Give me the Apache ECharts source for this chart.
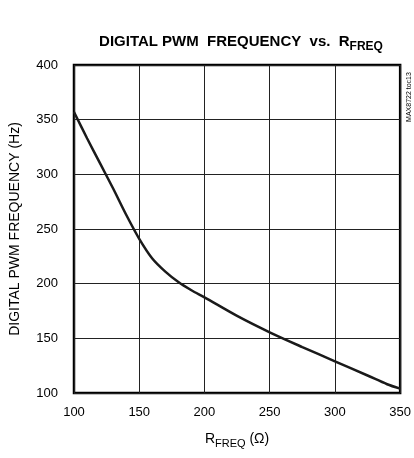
<!DOCTYPE html>
<html>
<head>
<meta charset="utf-8">
<script src="https://cdn.jsdelivr.net/npm/echarts@6/dist/echarts.min.js"></script>
<style>
html,body{margin:0;padding:0;background:#fff;}
#chart{width:414px;height:458px;}
</style>
</head>
<body>
<div id="chart"></div>
<script>
// Data
var rFreq = [100, 110, 120, 130, 140, 150, 160, 170, 180, 190, 200, 225, 250, 275, 300, 325, 340, 350];
var pwmFreq = [357, 333, 310, 287, 263, 241, 223, 211, 201.5, 194, 187.5, 170.5, 155.5, 142, 129, 116, 108, 104];
var xTicks = [100, 150, 200, 250, 300, 350];
var yTicks = [100, 150, 200, 250, 300, 350, 400];

var FONT = '"Liberation Sans", Arial, Helvetica, sans-serif';
var chart = echarts.init(document.getElementById('chart'), null, {renderer: 'canvas'});
var pts = rFreq.map(function (x, i) { return [x, pwmFreq[i]]; });

chart.setOption({
  animation: false,
  backgroundColor: '#fff',
  textStyle: {fontFamily: FONT},
  title: {
    text: '{a|DIGITAL PWM  FREQUENCY  vs.  R}{s|FREQ}',
    left: 236, top: 29, textAlign: 'center',
    textStyle: {
      rich: {
        a: {fontFamily: FONT, fontSize: 15, fontWeight: 'bold', color: '#000', verticalAlign: 'bottom', padding: [0, 0, 4, 0]},
        s: {fontFamily: FONT, fontSize: 12, fontWeight: 'bold', color: '#000', verticalAlign: 'bottom'}
      }
    }
  },
  grid: {left: 73, right: 12, top: 65, bottom: 65, show: true, borderColor: '#000', borderWidth: 2.5},
  xAxis: {
    type: 'value', min: 100, max: 350, interval: 50,
    name: '{a|R}{s|FREQ}{a| (Ω)}',
    nameLocation: 'middle', nameGap: 39,
    nameTextStyle: {
      rich: {
        a: {fontFamily: FONT, fontSize: 14, color: '#000', verticalAlign: 'bottom', padding: [0, 0, 3, 0]},
        s: {fontFamily: FONT, fontSize: 11, color: '#000', verticalAlign: 'bottom'}
      }
    },
    axisLine: {show: false}, axisTick: {show: false},
    axisLabel: {fontSize: 13, color: '#000', margin: 13, fontFamily: FONT},
    splitLine: {show: true, lineStyle: {color: '#222', width: 1}}
  },
  yAxis: {
    type: 'value', min: 100, max: 400, interval: 50,
    name: 'DIGITAL PWM FREQUENCY (Hz)',
    nameLocation: 'middle', nameGap: 52,
    nameTextStyle: {fontSize: 14, color: '#000', fontFamily: FONT},
    axisLine: {show: false}, axisTick: {show: false},
    axisLabel: {fontSize: 13, color: '#000', margin: 16, fontFamily: FONT},
    splitLine: {show: true, lineStyle: {color: '#222', width: 1}}
  },
  graphic: [{
    type: 'text', x: 409, y: 97, rotation: Math.PI / 2,
    style: {text: 'MAX8722 toc13', fontSize: 7, fill: '#000', fontFamily: FONT, align: 'center', verticalAlign: 'middle'}
  }],
  series: [{
    type: 'line', data: pts, smooth: 0.3, showSymbol: false,
    lineStyle: {color: '#1a1a1a', width: 2.5}, z: 5
  }]
});
</script>
</body>
</html>
